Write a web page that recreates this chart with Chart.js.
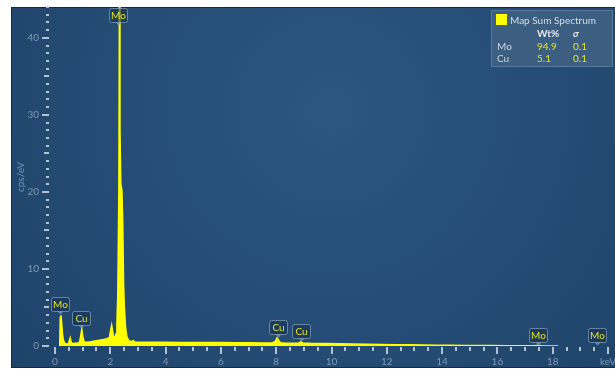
<!DOCTYPE html>
<html>
<head>
<meta charset="utf-8">
<script src="https://cdn.jsdelivr.net/npm/chart.js@4"></script>
<style>
  html, body { margin: 0; padding: 0; background: #fff; overflow: hidden; }
  canvas { display: block; }
</style>
</head>
<body>
<canvas id="spectrum" width="615" height="369"></canvas>
<script>
// --- Spectrum data (keV vs cps/eV) ---
const energies = [0.17, 0.19, 0.215, 0.24, 0.27, 0.30, 0.35, 0.42, 0.48, 0.52, 0.55, 0.58, 0.63, 0.72, 0.82, 0.89,
  0.93, 0.97, 1.01, 1.06, 1.15, 1.3, 1.45, 1.6, 1.75, 1.88, 1.97, 2.01, 2.05, 2.08, 2.12, 2.17, 2.21, 2.24, 2.27,
  2.31, 2.33, 2.35, 2.38, 2.42, 2.45, 2.48, 2.51, 2.55, 2.6, 2.67, 2.76, 2.83, 2.9, 3.0, 3.3, 3.6, 4.0, 4.5, 5.0,
  5.5, 6.0, 6.5, 7.0, 7.5, 7.85, 7.97, 8.03, 8.08, 8.15, 8.3, 8.6, 8.82, 8.9, 8.97, 9.3, 9.8, 10.3, 10.8, 11.3,
  11.8, 12.3, 12.8, 13.3, 13.8, 14.3, 14.8, 15.3, 15.8, 16.3, 16.8, 17.3, 17.48, 17.6, 18.2];
const counts = [0, 3.7, 4.0, 3.0, 1.6, 0.8, 0.35, 0.25, 0.3, 0.7, 1.05, 0.55, 0.3, 0.35, 0.4, 0.5,
  1.3, 2.2, 1.1, 0.5, 0.5, 0.55, 0.65, 0.75, 0.85, 0.95, 1.1, 2.0, 2.7, 2.0, 1.2, 1.1, 1.6, 3.0, 6.5,
  20, 46, 28, 21, 20.2, 16, 8, 5, 2.5, 1.2, 0.7, 0.55, 0.7, 0.5, 0.5, 0.5, 0.48, 0.5, 0.47, 0.46,
  0.45, 0.44, 0.42, 0.41, 0.4, 0.4, 0.6, 1.05, 0.8, 0.42, 0.38, 0.36, 0.4, 0.55, 0.38, 0.34, 0.32, 0.28, 0.25, 0.22,
  0.2, 0.17, 0.15, 0.13, 0.11, 0.09, 0.07, 0.06, 0.05, 0.04, 0.03, 0.03, 0.06, 0.02, 0.01];

const xTickValues = [0, 2, 4, 6, 8, 10, 12, 14, 16, 18, 20];
const xTickLabels = ['0', '2', '4', '6', '8', '10', '12', '14', '16', '18', 'keV'];
const yTickValues = [0, 10, 20, 30, 40];
const yTickLabels = ['0', '10', '20', '30', '40'];

// peak markers
const peakElements = ['Mo', 'Cu', 'Mo', 'Cu', 'Cu', 'Mo', 'Mo'];
const peakEnergies = [0.19, 0.93, 2.29, 8.05, 8.9, 17.48, 19.6];

// quantification box
const quantElements = ['Mo', 'Cu'];
const quantWt = ['94.9', '5.1'];
const quantSigma = ['0.1', '0.1'];

const FONT = 'Lato, "Open Sans", sans-serif';

function roundRect(ctx, x, y, w, h, r) {
    ctx.beginPath();
    ctx.moveTo(x + r, y);
    ctx.lineTo(x + w - r, y);
    ctx.quadraticCurveTo(x + w, y, x + w, y + r);
    ctx.lineTo(x + w, y + h - r);
    ctx.quadraticCurveTo(x + w, y + h, x + w - r, y + h);
    ctx.lineTo(x + r, y + h);
    ctx.quadraticCurveTo(x, y + h, x, y + h - r);
    ctx.lineTo(x, y + r);
    ctx.quadraticCurveTo(x, y, x + r, y);
    ctx.closePath();
}

// --- background panel + axes ---
const panelPlugin = {
    id: 'panel',
    beforeDraw(chart) {
        const ctx = chart.ctx;
        const xs = chart.scales.x, ys = chart.scales.y;
        ctx.save();
        ctx.fillStyle = '#fff';
        ctx.fillRect(0, 0, chart.width, chart.height);

        const g = ctx.createRadialGradient(330, 110, 10, 330, 110, 480);
        g.addColorStop(0, '#2b5680');
        g.addColorStop(1, '#1d4066');
        ctx.fillStyle = g;
        ctx.fillRect(11, 7, 604, 361);
        ctx.strokeStyle = '#132a42';
        ctx.lineWidth = 1;
        ctx.strokeRect(11.5, 7.5, 604, 360);

        // y ticks
        ctx.fillStyle = 'rgba(205,215,225,0.85)';
        for (let v = 0; v <= 44; v++) {
            const py = Math.round(ys.getPixelForValue(v));
            const len = v % 10 === 0 ? 7 : (v % 5 === 0 ? 5 : 3);
            ctx.fillRect(49 - len, py - 1, len, 2);
        }
        // x ticks every 0.5 keV
        for (let k = 0; k <= 40; k++) {
            const px = Math.round(xs.getPixelForValue(k / 2));
            const len = k % 4 === 0 ? 7 : 4;
            ctx.fillRect(px - 1, 347, 2, len);
        }

        ctx.fillStyle = '#7f98b3';
        ctx.font = '10px ' + FONT;
        ctx.textAlign = 'right';
        ctx.textBaseline = 'middle';
        yTickValues.forEach((v, i) => ctx.fillText(yTickLabels[i], 39, ys.getPixelForValue(v)));
        ctx.textAlign = 'center';
        xTickValues.forEach((v, i) => ctx.fillText(xTickLabels[i], xs.getPixelForValue(v), 362));

        // y title
        ctx.save();
        ctx.translate(20.5, 177);
        ctx.rotate(-Math.PI / 2);
        ctx.fillStyle = '#6f8fb0';
        ctx.fillText('cps/eV', 0, 0);
        ctx.restore();
        ctx.restore();
    },
    afterDatasetsDraw(chart) {
        const ctx = chart.ctx;
        const xs = chart.scales.x, ys = chart.scales.y;
        ctx.save();
        ctx.font = '10px ' + FONT;
        ctx.textAlign = 'center';
        ctx.textBaseline = 'middle';

        // peak markers
        peakElements.forEach((el, i) => {
            const e = peakEnergies[i];
            let top = 0;
            energies.forEach((k, j) => { if (Math.abs(k - e) <= 0.06) top = Math.max(top, counts[j]); });
            const cx = Math.round(xs.getPixelForValue(e)) + 0.5;
            let bottom = ys.getPixelForValue(Math.min(top, ys.max)) - 4;
            bottom = Math.round(Math.max(bottom, 22)) + 0.5;
            roundRect(ctx, cx - 9, bottom - 14, 18, 14, 2);
            ctx.fillStyle = 'rgba(22,48,78,0.55)';
            ctx.fill();
            ctx.strokeStyle = 'rgba(130,155,182,0.75)';
            ctx.lineWidth = 1;
            ctx.stroke();
            ctx.beginPath();
            ctx.moveTo(cx - 3, bottom);
            ctx.lineTo(cx, bottom + 3);
            ctx.lineTo(cx + 3, bottom);
            ctx.fillStyle = 'rgba(130,155,182,0.75)';
            ctx.fill();
            ctx.fillStyle = '#e2e21c';
            ctx.fillText(el, cx, bottom - 6.5);
        });

        // quantification legend
        ctx.fillStyle = '#3c5e81';
        ctx.fillRect(491, 10, 122, 57);
        ctx.strokeStyle = '#56789b';
        ctx.strokeRect(491.5, 10.5, 121, 56);
        ctx.fillStyle = '#ffff00';
        ctx.fillRect(496, 14, 11, 11);
        ctx.textAlign = 'left';
        ctx.fillStyle = '#d5dde6';
        ctx.fillText('Map Sum Spectrum', 510, 20.5);
        ctx.font = 'bold 10px ' + FONT;
        ctx.fillStyle = '#e3e8ee';
        ctx.fillText('Wt%', 537, 34);
        ctx.font = 'italic bold 10px ' + FONT;
        ctx.fillText('σ', 573, 34);
        ctx.font = '10px ' + FONT;
        quantElements.forEach((el, i) => {
            const py = 46.5 + i * 12;
            ctx.fillStyle = '#ccd5df';
            ctx.fillText(el, 497, py);
            ctx.fillStyle = '#e4e42a';
            ctx.fillText(quantWt[i], 537, py);
            ctx.fillText(quantSigma[i], 573, py);
        });
        ctx.restore();
    }
};

new Chart(document.getElementById('spectrum'), {
    type: 'line',
    data: {
        datasets: [{
            data: energies.map((e, i) => ({ x: e, y: counts[i] })),
            borderColor: '#ffff00',
            backgroundColor: '#ffff00',
            borderWidth: 1.5,
            pointRadius: 0,
            tension: 0,
            fill: 'origin'
        }]
    },
    options: {
        responsive: false,
        animation: false,
        devicePixelRatio: 1,
        events: [],
        layout: { padding: { left: 55, right: 7, top: 7, bottom: 23 } },
        plugins: { legend: { display: false }, tooltip: { enabled: false } },
        scales: {
            x: { type: 'linear', min: 0, max: 20, display: false },
            y: { min: 0, max: 44, display: false }
        }
    },
    plugins: [panelPlugin]
});
</script>
</body>
</html>
